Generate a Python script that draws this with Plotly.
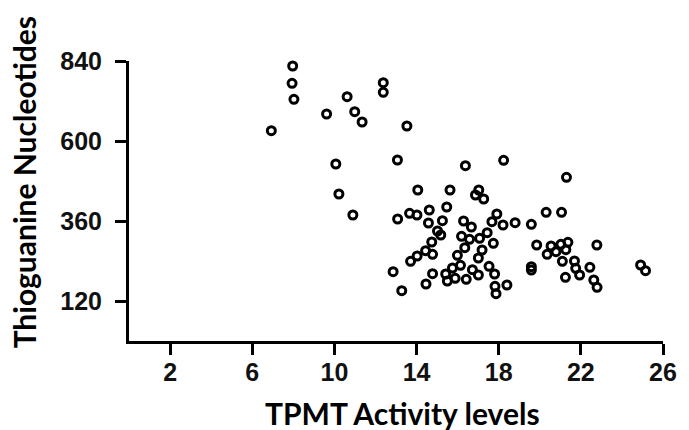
import plotly.graph_objects as go

# TPMT activity (x) and thioguanine nucleotides (y)
tpmt = [8.88, 7.97, 7.94, 8.03, 6.93, 9.62, 10.62, 10.99, 11.35, 12.38, 12.38, 13.53, 13.07, 14.06,
        10.07, 10.22, 10.90,
        13.08, 13.66, 14.02, 14.62, 14.58, 15.26, 15.02, 15.18, 14.74, 14.44, 14.78, 14.03, 13.71,
        12.86, 13.28, 14.78, 14.46, 15.42, 15.50, 15.75, 15.88, 15.99, 16.14, 16.42, 15.47, 15.63,
        16.38, 18.24, 17.03, 16.87, 17.27, 16.29, 16.67, 16.19, 16.58, 17.07, 17.44, 17.74, 16.35,
        17.19, 17.01, 16.72, 17.01, 17.53, 17.80, 17.82, 17.87, 18.40, 17.91, 17.67, 18.21, 18.80,
        19.59, 20.31, 21.06, 21.30, 19.85, 20.55, 21.03, 21.37, 20.36, 20.79, 21.27, 21.10, 21.69,
        21.75, 21.94, 22.44, 21.25, 22.63, 22.79, 22.78, 19.59, 19.59, 24.91, 25.15]
tgn = [861, 825, 773, 725, 631, 681, 733, 688, 657, 775, 746, 645, 543, 453,
       531, 441, 378,
       366, 383, 378, 393, 354, 361, 330, 318, 297, 271, 260, 255, 239,
       208, 151, 202, 171, 201, 180, 219, 188, 257, 227, 185, 402, 453,
       526, 542, 453, 438, 426, 360, 342, 314, 305, 308, 325, 293, 280,
       273, 249, 214, 198, 224, 201, 164, 142, 168, 381, 358, 348, 355,
       350, 386, 386, 491, 288, 285, 290, 296, 260, 268, 274, 239, 240,
       218, 198, 221, 191, 183, 161, 288, 223, 213, 228, 211]

x_ticks = [2, 6, 10, 14, 18, 22, 26]
y_ticks = [120, 360, 600, 840]

fig = go.Figure()
fig.add_trace(go.Scatter(
    x=tpmt, y=tgn, mode="markers", cliponaxis=False,
    marker=dict(symbol="circle-open", size=8, color="black", line=dict(width=3, color="black")),
    showlegend=False,
))

tickfont = dict(family="Liberation Sans, Arial, sans-serif", size=25, color="#111", weight="bold")
fig.update_xaxes(range=[0, 26], tickvals=x_ticks, ticktext=[str(v) for v in x_ticks],
                 showline=True, linecolor="black", linewidth=3, ticks="outside", ticklen=11,
                 tickwidth=3, tickcolor="black", showgrid=False, zeroline=False,
                 tickfont=tickfont, ticklabelstandoff=-4)
fig.update_yaxes(range=[0, 840], tickvals=y_ticks, ticktext=[str(v) for v in y_ticks],
                 showline=True, linecolor="black", linewidth=3, ticks="outside", ticklen=11,
                 tickwidth=3, tickcolor="black", showgrid=False, zeroline=False,
                 tickfont=tickfont, ticklabelstandoff=8)

titlefont = dict(family="Lato, Open Sans, sans-serif", size=30, color="black", weight="bold")
fig.add_annotation(text="Thioguanine Nucleotides", xref="paper", yref="paper",
                   x=(23 - 129) / 541, y=(341 - 182) / 280, textangle=-90,
                   xanchor="center", yanchor="middle", showarrow=False, font=titlefont)
fig.add_annotation(text="TPMT Activity levels", xref="paper", yref="paper",
                   x=(406.5 - 129) / 541, y=(341 - 413) / 280,
                   xanchor="center", yanchor="middle", showarrow=False, font=titlefont)

fig.update_layout(width=689, height=430, margin=dict(l=129, r=19, t=61, b=89),
                  plot_bgcolor="white", paper_bgcolor="white")
fig.write_html("out.html")
